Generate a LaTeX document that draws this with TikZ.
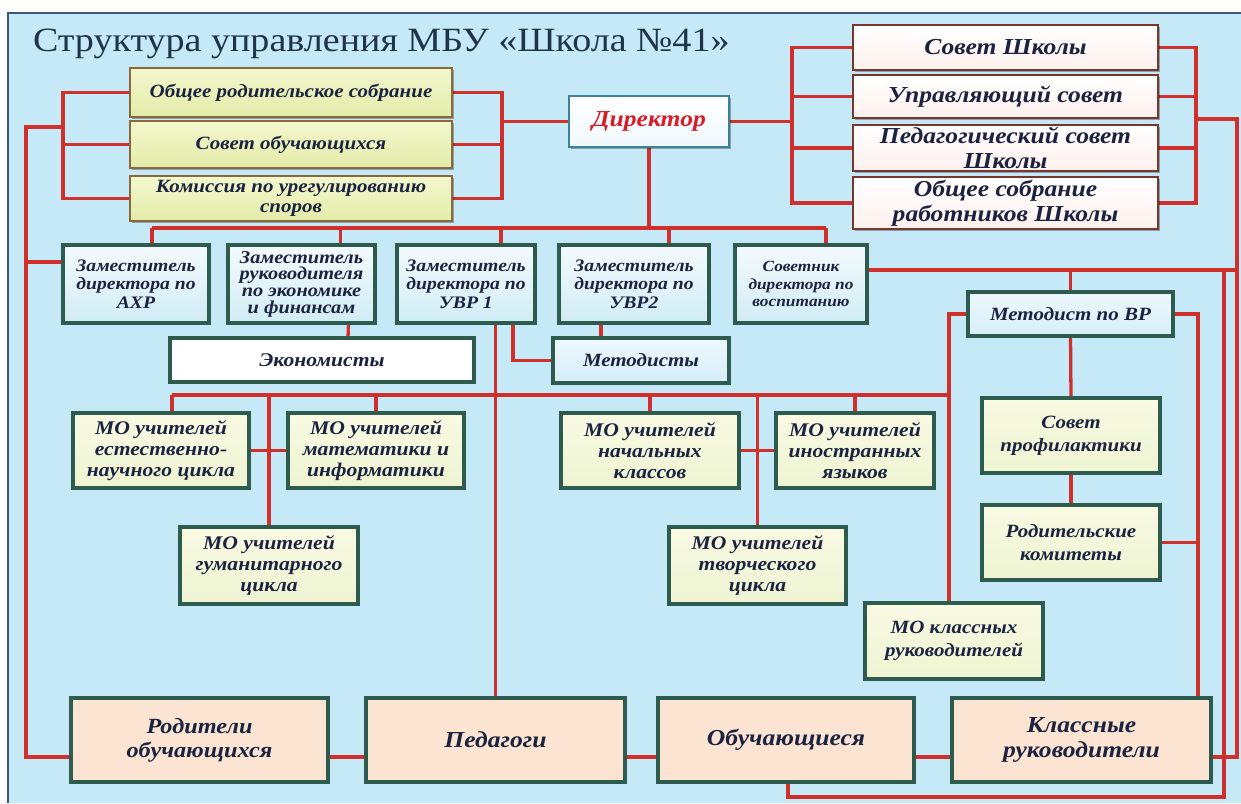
\documentclass[tikz,border=0pt]{standalone}
\usepackage{fontspec}
\setmainfont{Liberation Serif}[FakeStretch=1.12]
\usetikzlibrary{calc,shadows}
\definecolor{panel}{RGB}{197,233,247}
\definecolor{pborder}{RGB}{60,90,120}
\definecolor{lnc}{RGB}{208,48,44}
\definecolor{txt}{RGB}{27,35,64}
\definecolor{grn}{RGB}{45,92,78}
\definecolor{brn}{RGB}{140,105,60}
\definecolor{mar}{RGB}{120,55,45}
\definecolor{titlec}{RGB}{30,52,72}
\definecolor{dirred}{RGB}{215,30,40}
\definecolor{dirb}{RGB}{60,130,150}
\newcommand{\bfit}[2]{\fontsize{#1}{#2}\selectfont\bfseries\itshape}
\newcommand{\mybox}[7]{\node[#2, minimum width={(#5-#3)*0.03cm}, minimum height={(#6-#4)*0.03cm}] (#1) at ({(#3+#5)/2},{(#4+#6)/2}) {#7};}
\pgfdeclarelayer{bg}\pgfdeclarelayer{lines}\pgfsetlayers{bg,lines,main}
\begin{document}
\begin{tikzpicture}[x=0.03cm,y=-0.03cm,
 every node/.style={inner sep=0pt, outer sep=0pt, align=center, text=txt},
 bxbase/.style={draw, drop shadow={shadow xshift=1.3pt, shadow yshift=-1.8pt, opacity=0.3, fill=black}},
 grpL/.style={bxbase, draw=brn, line width=2pt, top color={rgb,255:red,243;green,247;blue,205}, bottom color={rgb,255:red,226;green,236;blue,168}, font=\bfit{16}{17}},
 grpR/.style={bxbase, draw=mar, line width=2pt, top color=white, bottom color={rgb,255:red,253;green,240;blue,236}, font=\bfit{19.5}{21}},
 dirbox/.style={bxbase, draw=dirb, line width=1.5pt, top color=white, bottom color={rgb,255:red,240;green,248;blue,252}, text=dirred, font=\bfit{19.5}{20}},
 dep/.style={bxbase, draw=grn, line width=2.6pt, top color={rgb,255:red,244;green,251;blue,253}, bottom color={rgb,255:red,208;green,236;blue,245}, font=\bfit{15}{15.8}},
 wbox/.style={bxbase, draw=grn, line width=2.6pt, fill=white, font=\bfit{16.5}{17}},
 lbbox/.style={bxbase, draw=grn, line width=2.6pt, top color={rgb,255:red,236;green,248;blue,252}, bottom color={rgb,255:red,214;green,238;blue,247}, font=\bfit{16}{17}},
 mo/.style={bxbase, draw=grn, line width=2.6pt, top color={rgb,255:red,248;green,250;blue,226}, bottom color={rgb,255:red,238;green,244;blue,210}, font=\bfit{16.5}{18}},
 bot/.style={bxbase, draw=grn, line width=2.6pt, fill={rgb,255:red,252;green,228;blue,210}, font=\bfit{18.5}{20.5}},
 conn/.style={draw=lnc, line width=2.8pt},
]
\useasboundingbox (0,0) rectangle (1241,803);
\begin{pgfonlayer}{bg}
\fill[white] (0,0) rectangle (1241,803);
\fill[panel] (8,13) rectangle (1241,803);
\draw[pborder, line width=1.2pt] (8,803) -- (8,13) -- (1241,13);
\end{pgfonlayer}

\node[anchor=west, text=titlec, font=\fontsize{29}{32}\selectfont] (title) at (33,44) {Структура управления МБУ «Школа №41»};

% left group
\mybox{A1}{grpL}{130}{68}{452}{117}{Общее родительское собрание}
\mybox{A2}{grpL}{130}{121}{452}{168}{Совет обучающихся}
\mybox{A3}{grpL}{130}{176}{452}{221}{Комиссия по урегулированию\\споров}
% director
\mybox{Dir}{dirbox}{569}{96}{729}{147}{Директор}
% right group
\mybox{B1}{grpR}{853}{25}{1158}{70}{Совет Школы}
\mybox{B2}{grpR}{853}{75}{1158}{118}{Управляющий совет}
\mybox{B3}{grpR}{853}{125}{1158}{171}{Педагогический совет\\Школы}
\mybox{B4}{grpR}{853}{177}{1158}{229}{Общее собрание\\работников Школы}
% deputies
\mybox{AXR}{dep}{63}{245}{209}{323}{Заместитель\\директора по\\АХР}
\mybox{ZR}{dep, font=\bfit{15.5}{14.2}}{228}{245}{375}{323}{Заместитель\\руководителя\\по экономике\\и финансам}
\mybox{UVR1}{dep}{397}{245}{535}{323}{Заместитель\\директора по\\УВР 1}
\mybox{UVR2}{dep}{559}{245}{709}{323}{Заместитель\\директора по\\УВР2}
\mybox{Sov}{dep, font=\bfit{13.2}{15}}{735}{245}{867}{323}{Советник\\директора по\\воспитанию}
\mybox{Econ}{wbox}{170}{338}{474}{382}{Экономисты}
\mybox{Met}{lbbox}{553}{338}{729}{383}{Методисты}
\mybox{MVR}{lbbox}{968}{292}{1173}{336}{Методист по ВР}
% MO
\mybox{MOe}{mo}{73}{413}{249}{488}{МО учителей\\естественно-\\научного цикла}
\mybox{MOm}{mo}{288}{413}{464}{488}{МО учителей\\математики и\\информатики}
\mybox{MOn}{mo}{561}{413}{739}{488}{МО учителей\\начальных\\классов}
\mybox{MOi}{mo}{776}{413}{934}{488}{МО учителей\\иностранных\\языков}
\mybox{MOg}{mo}{180}{527}{358}{604}{МО учителей\\гуманитарного\\цикла}
\mybox{MOt}{mo}{669}{527}{846}{604}{МО учителей\\творческого\\цикла}
\mybox{SP}{mo, font=\bfit{16}{19.5}}{982}{398}{1160}{473}{Совет\\профилактики}
\mybox{RK}{mo, font=\bfit{16}{19.5}}{982}{505}{1160}{580}{Родительские\\комитеты}
\mybox{MOk}{mo, font=\bfit{16}{19.5}}{865}{603}{1043}{679}{МО классных\\руководителей}
% bottom
\mybox{Rod}{bot}{71}{698}{328}{782}{Родители\\обучающихся}
\mybox{Ped}{bot, font=\bfit{19.5}{21}}{366}{698}{625}{782}{Педагоги}
\mybox{Obuch}{bot, font=\bfit{19.5}{21}}{658}{698}{914}{782}{Обучающиеся}
\mybox{Klass}{bot, font=\bfit{19.5}{21}}{952}{698}{1211}{782}{Классные\\руководители}

% helper coordinates
\coordinate (LB) at (63,0);
\coordinate (RB) at (502,0);
\coordinate (RL) at (792,0);
\coordinate (RR) at (1196,0);
\coordinate (OL) at (26,127);
\coordinate (h262) at (0,262);
\coordinate (h757) at (0,757);
\coordinate (h270) at (0,270);
\coordinate (FR) at (1237,119);
\coordinate (BR) at (1224,797);
\coordinate (c788) at (788,0);
\coordinate (RV) at (1198,0);
\coordinate (LV) at (949,0);
\coordinate (busL) at (152,228);
\coordinate (busR) at (826,228);
\coordinate (mob) at (172,395);

\begin{pgfonlayer}{lines}
% left group brackets
\draw[conn] (A1.west) -- (A1.west -| LB) -- (A3.west -| LB) -- (A3.west);
\draw[conn] (A2.west) -- (A2.west -| LB);
\draw[conn] (A1.east) -- (A1.east -| RB) -- (A3.east -| RB) -- (A3.east);
\draw[conn] (A2.east) -- (A2.east -| RB);
\draw[conn] (Dir.west) -- (Dir.west -| RB);
% outer left line
\draw[conn] (OL -| LB) -- (OL) -- (OL |- h757) -- (Rod.west |- h757);
\draw[conn] (AXR.west |- h262) -- (OL |- h262);
% right group brackets
\draw[conn] (B1.west) -- (B1.west -| RL) -- (B4.west -| RL) -- (B4.west);
\draw[conn] (B2.west) -- (B2.west -| RL);
\draw[conn] (B3.west) -- (B3.west -| RL);
\draw[conn] (Dir.east) -- (Dir.east -| RL);
\draw[conn] (B1.east) -- (B1.east -| RR) -- (B4.east -| RR) -- (B4.east);
\draw[conn] (B2.east) -- (B2.east -| RR);
\draw[conn] (B3.east) -- (B3.east -| RR);
\draw[conn] (FR -| RR) -- (FR) -- (FR |- h757) -- (Klass.east |- h757);
% director bus
\draw[conn] (Dir.south) -- (Dir.south |- busL);
\draw[conn] (busL) -- (busR);
\draw[conn] (busL) -- (busL |- AXR.north);
\draw[conn] ($(ZR.north)+(39,0)$) -- ($(ZR.north)+(39,-17)$);
\draw[conn] ($(UVR1.north)+(35,0)$) -- ($(UVR1.north)+(35,-17)$);
\draw[conn] ($(UVR2.north)+(35,0)$) -- ($(UVR2.north)+(35,-17)$);
\draw[conn] (busR) -- (busR |- Sov.north);
% deputies below
\draw[conn] ($(ZR.south)+(47,0)$) -- ($(Econ.north)+(26,0)$);
\draw[conn] (UVR1.south -| Ped.north) -- (Ped.north);
\draw[conn] ($(UVR1.south)+(47,0)$) |- (Met.west);
\draw[conn] ($(UVR2.south)+(-33,0)$) -- ($(Met.north)+(-40,0)$);
% Sovetnik line
\draw[conn] (Sov.east |- h270) -- (FR |- h270);
\draw[conn] (MVR.north |- h270) -- (MVR.north);
\draw[conn] (BR |- h270) -- (BR) -- (c788 |- BR) -- (c788 |- Obuch.south);
\draw[conn] (MVR.east) -- (RV |- MVR.east) -- (RV |- Klass.north);
\draw[conn] (RK.east) -- (RV |- RK.east);
\draw[conn] (MVR.west) -- (LV |- MVR.west) -- (LV |- MOk.north);
\draw[conn] (MVR.south) -- (SP.north);
\draw[conn] (SP.south) -- (RK.north);
% MO bus
\draw[conn] (mob) -- (LV |- mob);
\draw[conn] (mob) -- (mob |- MOe.north);
\draw[conn] (MOg.north |- mob) -- (MOg.north);
\draw[conn] (MOm.north |- mob) -- (MOm.north);
\draw[conn] (MOn.north |- mob) -- (MOn.north);
\draw[conn] (MOt.north |- mob) -- (MOt.north);
\draw[conn] (MOi.north |- mob) -- (MOi.north);
\draw[conn] (MOe.east) -- (MOm.west);
\draw[conn] (MOn.east) -- (MOi.west);
% bottom row
\draw[conn] (Rod.east |- h757) -- (Ped.west |- h757);
\draw[conn] (Ped.east |- h757) -- (Obuch.west |- h757);
\draw[conn] (Obuch.east |- h757) -- (Klass.west |- h757);
\end{pgfonlayer}
\end{tikzpicture}
\end{document}
